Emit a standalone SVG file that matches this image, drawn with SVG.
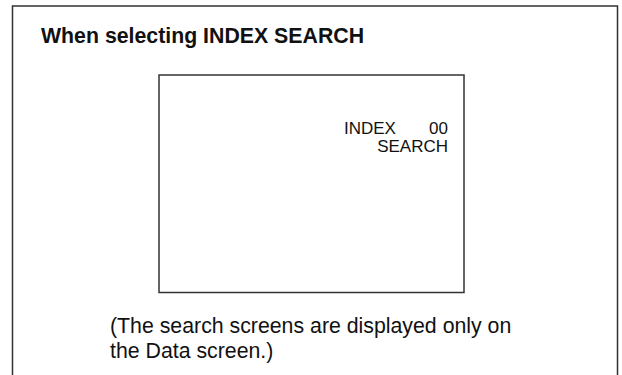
<svg xmlns="http://www.w3.org/2000/svg" width="622" height="375" viewBox="0 0 622 375">
<style>
.frame{fill:none;stroke:#333;stroke-width:1.5}
.t{font-family:"Liberation Sans",Arial,sans-serif;fill:#111}
</style>
<rect width="622" height="375" fill="#fff"/>
<g id="outer-frame">
<path class="frame" d="M12.5,380 V6 H617.5 V380"/>
</g>
<text class="t" x="41" y="43" font-size="21.3" font-weight="bold">When selecting INDEX SEARCH</text>
<g id="screen">
<rect class="frame" x="159" y="75" width="305" height="217.5"/>
<text class="t" x="344" y="134" font-size="17">INDEX</text>
<text class="t" x="448" y="134" font-size="17" text-anchor="end">00</text>
<text class="t" x="448" y="152" font-size="17" text-anchor="end">SEARCH</text>
</g>
<g id="connectors"></g>
<text class="t" x="110" y="333" font-size="21.3">(The search screens are displayed only on</text>
<text class="t" x="110" y="358" font-size="21.3">the Data screen.)</text>
</svg>
